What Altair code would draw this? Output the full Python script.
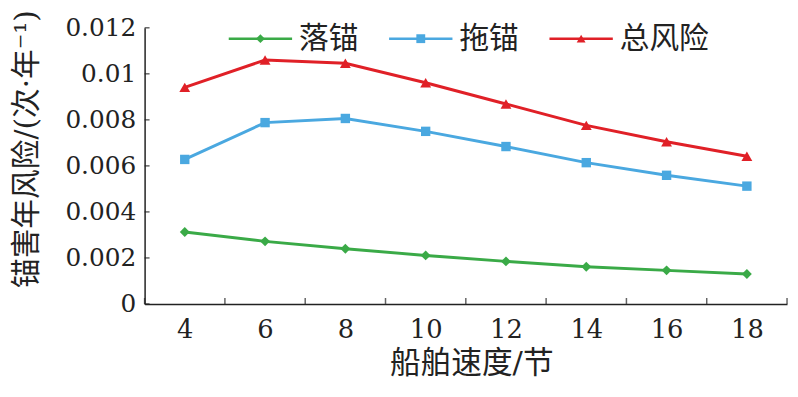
import altair as alt
import pandas as pd

speeds = [4, 6, 8, 10, 12, 14, 16, 18]
series_names = ["落锚", "拖锚", "总风险"]
drop_anchor = [0.00313, 0.00272, 0.00240, 0.00211, 0.00185, 0.00162, 0.00146, 0.00130]
drag_anchor = [0.00628, 0.00788, 0.00806, 0.00750, 0.00684, 0.00614, 0.00559, 0.00512]
total_risk = [0.00941, 0.01060, 0.01046, 0.00961, 0.00869, 0.00776, 0.00705, 0.00642]
y_ticks = [0, 0.002, 0.004, 0.006, 0.008, 0.01, 0.012]
x_bounds = [3, 5, 7, 9, 11, 13, 15, 17, 19]

colors = ["#3aaa47", "#4aa8e0", "#e02027"]
shapes = ["diamond", "square", "triangle-up"]
marker_sizes = [100, 90, 120]

rows = []
for name, vals in zip(series_names, [drop_anchor, drag_anchor, total_risk]):
    for s, v in zip(speeds, vals):
        rows.append({"speed": s, "risk": v, "series": name})
df = pd.DataFrame(rows)

SERIF = "DejaVu Serif"
MIX = "DejaVu Serif, Noto Sans CJK SC"
CJK = "Noto Sans CJK SC"
INK = "#222222"
PLOT_H = 279

x_enc = alt.X(
    "speed:Q",
    scale=alt.Scale(domain=[3, 19], nice=False, zero=False),
    axis=alt.Axis(
        values=speeds,
        title="船舶速度/节",
        grid=False,
        ticks=False,
        labelPadding=13,
        labelFontSize=26,
        labelFont=SERIF,
        labelOverlap=False,
        titleFont=MIX,
        titleFontSize=31,
        titleFontWeight="normal",
        titlePadding=6,
        titleX=330,
    ),
)
y_enc = alt.Y(
    "risk:Q",
    scale=alt.Scale(domain=[0, 0.012], nice=False),
    axis=alt.Axis(
        values=y_ticks,
        format=".3~f",
        title="锚害年风险/(次·年⁻¹)",
        grid=False,
        ticks=False,
        labelPadding=9,
        labelFontSize=25,
        labelFont=SERIF,
        titleFont=MIX,
        titleFontSize=30,
        titleFontWeight="normal",
        titleBaseline="middle",
        titleX=-119,
        titleY=122,
    ),
)

color_scale = alt.Scale(domain=series_names, range=colors)

lines = alt.Chart(df).mark_line(strokeWidth=3).encode(
    x=x_enc,
    y=y_enc,
    color=alt.Color("series:N", scale=color_scale, legend=None),
)

point_layers = []
for name, shp, col, sz in zip(series_names, shapes, colors, marker_sizes):
    point_layers.append(
        alt.Chart(df)
        .transform_filter(alt.datum.series == name)
        .mark_point(filled=True, opacity=1, size=sz, shape=shp, color=col)
        .encode(x="speed:Q", y="risk:Q")
    )

# inward axis ticks
y_tick_marks = alt.Chart(pd.DataFrame({"risk": y_ticks})).mark_tick(
    orient="horizontal", size=5, thickness=1.5, color=INK
).encode(y="risk:Q", x=alt.value(2.5))
x_tick_marks = alt.Chart(pd.DataFrame({"speed": x_bounds})).mark_tick(
    orient="vertical", size=6, thickness=1.5, color=INK
).encode(x="speed:Q", y=alt.value(PLOT_H - 3))

# legend (drawn in pixel space along the top of the plot)
leg_start, leg_step, leg_len, leg_y = 85, 162, 64, 11
leg = pd.DataFrame({
    "series": series_names,
    "col": colors,
    "shp": shapes,
    "x0": [leg_start + i * leg_step for i in range(len(series_names))],
})
leg["x1"] = leg["x0"] + leg_len
leg["xm"] = leg["x0"] + leg_len / 2
leg["xt"] = leg["x1"] + 7

leg_lines = alt.Chart(leg).mark_rule(strokeWidth=2.5).encode(
    x=alt.X("x0:Q", scale=None),
    x2="x1:Q",
    y=alt.value(leg_y),
    color=alt.Color("col:N", scale=None),
)
leg_marks = alt.Chart(leg).mark_point(filled=True, opacity=1, size=80).encode(
    x=alt.X("xm:Q", scale=None),
    y=alt.value(leg_y),
    color=alt.Color("col:N", scale=None),
    shape=alt.Shape("shp:N", scale=None),
)
leg_text = alt.Chart(leg).mark_text(
    align="left", baseline="middle", font=CJK, fontSize=30, color=INK, dy=0
).encode(
    x=alt.X("xt:Q", scale=None),
    y=alt.value(leg_y),
    text="series:N",
)

chart = (
    alt.layer(lines, *point_layers, y_tick_marks, x_tick_marks, leg_lines, leg_marks, leg_text)
    .properties(
        width=649,
        height=PLOT_H,
        autosize=alt.AutoSizeParams(type="none"),
        padding={"left": 138, "top": 18, "right": 3, "bottom": 92},
    )
    .configure(font=SERIF)
    .configure_view(stroke=None)
    .configure_axis(
        domainColor=INK, labelColor=INK, titleColor=INK, domainWidth=1.5,
        labelFont=SERIF, titleFont=MIX,
    )
    .configure_axisY(labelFont=SERIF, labelFontSize=25)
    .configure_axisX(labelFont=SERIF, labelFontSize=26)
)

chart.save("out.html", embed_options={"renderer": "svg", "actions": False})
